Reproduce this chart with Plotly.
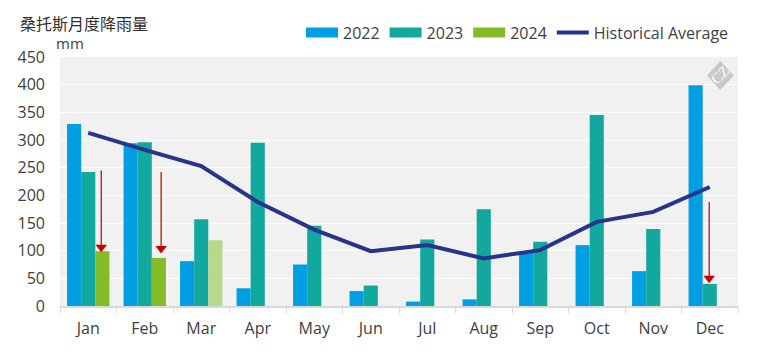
import plotly.graph_objects as go

months = ["Jan","Feb","Mar","Apr","May","Jun","Jul","Aug","Sep","Oct","Nov","Dec"]
rain_2022 = [329,294,81,32,75,27,8,12,97,110,63,399]
rain_2023 = [242,296,157,295,145,37,120,175,116,345,139,40]
rain_2024 = [99,87,119,None,None,None,None,None,None,None,None,None]
colors_2024 = ["#83bc27","#83bc27","#b9d88b"] + ["#83bc27"]*9
historical = [313,282,253,188,138,99,110,86,101,152,170,215]
arrow_x = [0.23,1.29,10.99]
arrow_top = [245,242,188]
arrow_head = [106,104,50]
yticks = [0,50,100,150,200,250,300,350,400,450]

TXT = "#404040"
FONT = "Open Sans"
W, H = 769, 352
L, R, T, B = 60, 31, 56.5, 46
fig = go.Figure()
xs = list(range(12))
fig.add_bar(x=xs, y=rain_2022, name="2022", marker_color="#009fe3", marker_line_width=0, showlegend=False, legendgroup="a", hoverinfo="skip")
fig.add_bar(x=xs, y=rain_2023, name="2023", marker_color="#13a89e", marker_line_width=0, showlegend=False, legendgroup="b", hoverinfo="skip")
fig.add_bar(x=xs, y=rain_2024, name="2024", marker_color=colors_2024, marker_line_width=0, showlegend=False, legendgroup="c", hoverinfo="skip")
for nm, c, g in [("2022","#009fe3","a"),("2023","#13a89e","b"),("2024","#83bc27","c")]:
    fig.add_scatter(x=[None], y=[None], mode="lines", name=nm, legendgroup=g, line=dict(color=c, width=10))
fig.add_scatter(x=xs, y=historical, mode="lines", name="Historical Average",
                line=dict(color="#27348b", width=4), hoverinfo="skip")
for ax_, top, head in zip(arrow_x, arrow_top, arrow_head):
    fig.add_scatter(x=[ax_, ax_], y=[top, head], mode="lines", showlegend=False, hoverinfo="skip",
                    line=dict(color="#b00000", width=1.2))
    fig.add_scatter(x=[ax_], y=[head], mode="markers", showlegend=False, hoverinfo="skip",
                    marker=dict(symbol="triangle-down", size=10, color="#cc0000", line_width=0))

PW = W - L - R
PH = H - T - B
def fx(p): return (p - L) / PW
def fy(p): return (H - B - p) / PH
cx, cy = 720.3, 75
hw, hh = 13.5, 14.5
fig.add_shape(type="path", xref="paper", yref="paper", layer="above", line_width=0, fillcolor="#c9c9c9",
              path=f"M{fx(cx-hw)},{fy(cy)} L{fx(cx)},{fy(cy-hh)} L{fx(cx+hw)},{fy(cy)} L{fx(cx)},{fy(cy+hh)} Z")
fig.add_annotation(xref="paper", yref="paper", x=fx(cx), y=fy(cy), text="CZ", showarrow=False, textangle=-45,
                   xanchor="center", yanchor="middle",
                   font=dict(family="Liberation Serif", size=15, color="#ffffff"))
fig.add_annotation(xref="paper", yref="paper", x=fx(18), y=fy(22), xanchor="left", yanchor="middle", showarrow=False,
                   text="桑托斯月度降雨量", font=dict(family="Noto Sans CJK SC", size=16, color="#303030"))
fig.add_annotation(xref="paper", yref="paper", x=fx(54), y=fy(42), xanchor="left", yanchor="middle", showarrow=False,
                   text="mm", font=dict(family=FONT, size=15, color=TXT))

fig.update_layout(
    width=W, height=H, margin=dict(l=L, r=R, t=T, b=B), autosize=False,
    paper_bgcolor="#ffffff", plot_bgcolor="#f1f1f1",
    barmode="group", bargap=0.25, bargroupgap=0,
    font=dict(family=FONT, size=16, color=TXT),
    legend=dict(orientation="h", x=fx(301), y=fy(32), xanchor="left", yanchor="middle", itemwidth=32,
                font=dict(family=FONT, size=16, color=TXT),
                bgcolor="rgba(0,0,0,0)", traceorder="normal", itemclick=False, itemdoubleclick=False),
    xaxis=dict(range=[-0.5,11.5], tickmode="array", tickvals=xs, ticktext=months, ticks="", showgrid=False,
               zeroline=False, showline=True, linecolor="#d9d9d9", linewidth=1.5, ticklabelstandoff=7,
               minor=dict(tickmode="linear", tick0=-0.5, dtick=1, ticks="outside", ticklen=5, tickcolor="#d9d9d9", tickwidth=1, showgrid=False)),
    yaxis=dict(range=[0,450], tickmode="array", tickvals=yticks, showgrid=True, gridcolor="#ffffff", gridwidth=1.3,
               zeroline=False, showline=False, ticks="", ticklabelstandoff=14),
)
fig.write_html("out.html", config=dict(displayModeBar=False), post_script="document.body.style.margin='0';")
